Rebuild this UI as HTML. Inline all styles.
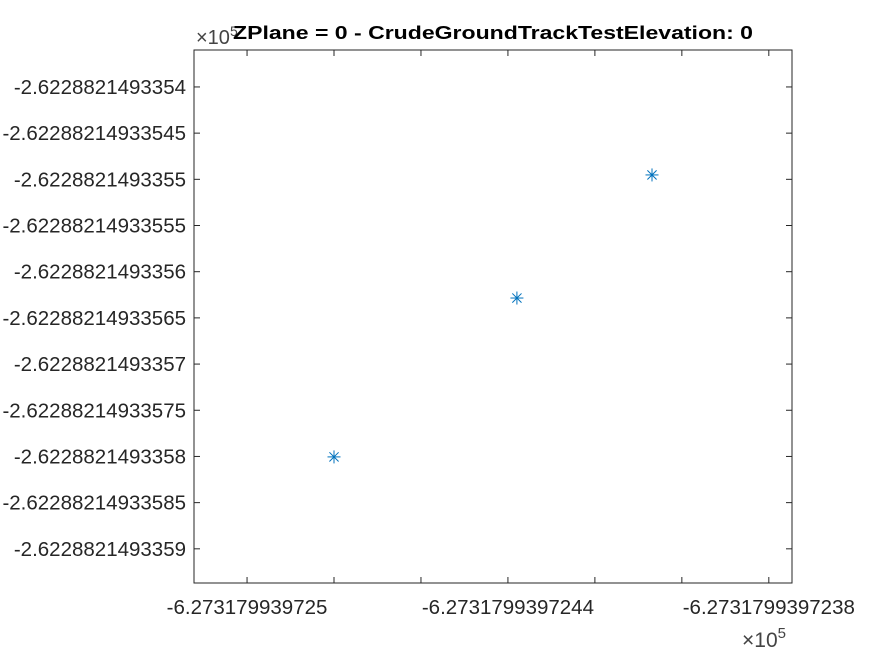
<!DOCTYPE html>
<html><head><meta charset="utf-8"><style>body{margin:0;background:#fff}svg{display:block;font-family:"Liberation Sans",Arial,sans-serif}</style></head>
<body>
<svg id="chart" width="875" height="656" viewBox="0 0 875 656" xmlns="http://www.w3.org/2000/svg">
<rect width="875" height="656" fill="#fff"/>
<text x="196" y="44" font-size="20" fill="#444">×10<tspan font-size="14" dy="-8">5</tspan></text>
<text x="493" y="39" text-anchor="middle" font-size="18" font-weight="bold" fill="#000" textLength="520" lengthAdjust="spacingAndGlyphs">ZPlane = 0 - CrudeGroundTrackTestElevation: 0</text>
<text x="742" y="647" font-size="21" fill="#444">×10<tspan font-size="15" dy="-9">5</tspan></text>
<g id="axes"></g>
<g id="marks"></g>
</svg>
<script>
const xTickOffsets=[0,3,6,9,12,15,18];
const xTickLabels=["-6.273179939725","","","-6.2731799397244","","","-6.2731799397238"];
const yTickOffsets=[0,1,2,3,4,5,6,7,8,9,10];
const yTickLabels=["-2.6228821493354","-2.62288214933545","-2.6228821493355","-2.62288214933555","-2.6228821493356","-2.62288214933565","-2.6228821493357","-2.62288214933575","-2.6228821493358","-2.62288214933585","-2.6228821493359"];
const xValues=[3.0,9.31,13.97];
const yValues=[8.01,4.57,1.905];
const L=194,R=792,T=50,B=583;
const xMin=-1.83,xMax=18.8,yMin=-0.8,yMax=10.74;
const sx=v=>L+(v-xMin)/(xMax-xMin)*(R-L);
const sy=v=>T+(v-yMin)/(yMax-yMin)*(B-T);
const NS="http://www.w3.org/2000/svg";
function mk(t,a,p){const e=document.createElementNS(NS,t);for(const k in a)e.setAttribute(k,a[k]);p.appendChild(e);return e;}
const ax=document.getElementById('axes');
const box=mk('rect',{x:L,y:T,width:R-L,height:B-T,fill:'none',stroke:'#262626','stroke-width':1},ax);


xTickOffsets.forEach((v,i)=>{const x=sx(v);
 const t1=mk('line',{x1:x,x2:x,y1:B,y2:B-6,stroke:'#262626'},ax);
 
 
 const t2=mk('line',{x1:x,x2:x,y1:T,y2:T+6,stroke:'#262626'},ax);
 
 
 if(xTickLabels[i]){const tx=mk('text',{x:x,y:614,'text-anchor':'middle','font-size':20.5,fill:'#262626'},ax);tx.textContent=xTickLabels[i];
 
 }
});
yTickOffsets.forEach((v,i)=>{const y=sy(v);
 const t1=mk('line',{x1:L,x2:L+6,y1:y,y2:y,stroke:'#262626'},ax);
 
 
 const t2=mk('line',{x1:R,x2:R-6,y1:y,y2:y,stroke:'#262626'},ax);
 
 
 const tx=mk('text',{x:186,y:y+7,'text-anchor':'end','font-size':20.5,fill:'#262626'},ax);tx.textContent=yTickLabels[i];
 
 
});
const mg=document.getElementById('marks');
xValues.forEach((v,i)=>{const cx=sx(v),cy=sy(yValues[i]);const r=6.5,d=r*0.707;
 const g=mk('g',{stroke:'#0072BD','stroke-width':1},mg);
 
 
 mk('line',{x1:cx-r,x2:cx+r,y1:cy,y2:cy},g);
 mk('line',{x1:cx,x2:cx,y1:cy-r,y2:cy+r},g);
 mk('line',{x1:cx-d,x2:cx+d,y1:cy-d,y2:cy+d},g);
 mk('line',{x1:cx-d,x2:cx+d,y1:cy+d,y2:cy-d},g);
});
</script>
</body></html>
